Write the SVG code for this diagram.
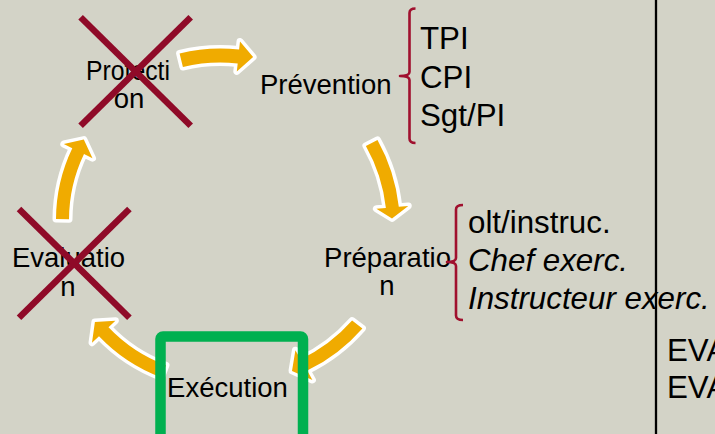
<svg xmlns="http://www.w3.org/2000/svg" width="715" height="434" viewBox="0 0 715 434">
<style>
.bg{fill:#D3D3C7}
.arr{fill:#F0AB00;stroke:#FFFFFF;stroke-width:7;stroke-linejoin:round;paint-order:stroke}
.lbl{font-family:"Liberation Sans",Arial,sans-serif;font-size:27.5px;fill:#000}
.lst{font-family:"Liberation Sans",Arial,sans-serif;font-size:31.3px;fill:#000}
.it{font-style:italic}
.x{stroke:#8F0A28;stroke-width:6.5;stroke-linecap:butt;fill:none}
.brace{stroke:#A0102E;stroke-width:2.6;fill:none;stroke-linejoin:round}
</style>
<rect class="bg" x="0" y="0" width="715" height="434"/>
<g id="connectors">
<path class="arr" d="M 179.6 53.4 A 173.6 173.6 0 0 1 239.1 49.6 L 240.0 41.6 L 253.1 57.1 L 236.8 71.4 L 237.7 63.5 A 159.6 159.6 0 0 0 182.9 67.0 Z"/>
<path class="arr" d="M 377.5 139.9 A 177.5 177.5 0 0 1 398.8 206.8 L 408.3 205.9 L 392.0 218.4 L 376.4 208.7 L 385.9 207.9 A 164.5 164.5 0 0 0 365.9 145.9 Z"/>
<path class="arr" d="M 362.4 328.4 A 174.5 174.5 0 0 1 307.2 370.6 L 312.4 380 L 292 370.9 L 295.4 350.3 L 300.6 359.4 A 161.5 161.5 0 0 0 352.1 320.6 Z"/>
<path class="arr" d="M 161.3 377.4 A 166.8 166.8 0 0 1 99.0 336.2 L 92.0 342.7 L 94.9 322 L 115.4 320.8 L 108.5 327.3 A 153.8 153.8 0 0 0 166 365.3 Z"/>
<path class="arr" d="M 56.0 219.1 A 165.5 165.5 0 0 1 72.3 148.2 L 63.8 144.0 L 83.8 139.6 L 92.5 158.2 L 84.0 154.0 A 152.5 152.5 0 0 0 69.0 219.35 Z"/>
</g>
<g id="node-protection">
<text class="lbl" x="128" y="80" text-anchor="middle" textLength="84" lengthAdjust="spacingAndGlyphs">Protecti</text>
<text class="lbl" x="129" y="108" text-anchor="middle">on</text>
<line class="x" x1="80.6" y1="17.3" x2="190.7" y2="125.7"/>
<line class="x" x1="190.7" y1="17.3" x2="80.6" y2="125.7"/>
</g>
<g id="node-prevention">
<text class="lbl" x="260" y="94">Prévention</text>
<path class="brace" d="M 415.5 8.5 Q 409.5 8.5 409.5 13 L 409.5 72 Q 409.5 76 400 76 Q 409.5 76 409.5 80 L 409.5 138.5 Q 409.5 143 415.5 143"/>
<text class="lst" x="420" y="49">TPI</text>
<text class="lst" x="420" y="88">CPI</text>
<text class="lst" x="420" y="126">Sgt/PI</text>
</g>
<g id="node-preparation">
<text class="lbl" x="387.5" y="267" text-anchor="middle">Préparatio</text>
<text class="lbl" x="387" y="295" text-anchor="middle">n</text>
<path class="brace" d="M 463 205 Q 456 205 456 209.5 L 456 258 Q 456 262 447 262 Q 456 262 456 266 L 456 315.5 Q 456 320 463 320"/>
<text class="lst" x="468" y="233">olt/instruc.</text>
<text class="lst it" x="468" y="271">Chef exerc.</text>
<text class="lst it" x="468" y="309">Instructeur exerc.</text>
</g>
<g id="node-evaluation">
<text class="lbl" x="68.5" y="267" text-anchor="middle">Evaluatio</text>
<text class="lbl" x="68" y="296" text-anchor="middle">n</text>
<line class="x" x1="19" y1="209" x2="129.4" y2="317.7"/>
<line class="x" x1="129.4" y1="209" x2="19" y2="317.7"/>
</g>
<g id="node-execution">
<rect x="160.5" y="336.5" width="142.5" height="115" rx="2.5" fill="none" stroke="#00B050" stroke-width="10.5"/>
<text class="lbl" x="227.5" y="397" text-anchor="middle">Exécution</text>
</g>
<g id="divider">
<line x1="656" y1="0" x2="656" y2="434" stroke="#000" stroke-width="2.3"/>
</g>
<g id="node-eva">
<text class="lst" x="667" y="361">EVA</text>
<text class="lst" x="667" y="398">EVA</text>
</g>
</svg>
